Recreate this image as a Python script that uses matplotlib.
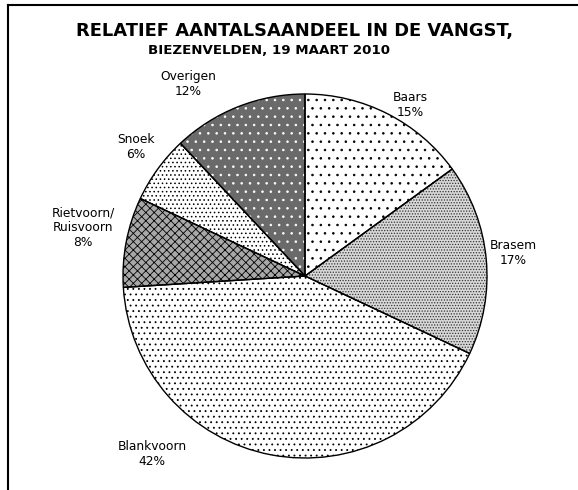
import matplotlib
matplotlib.use("Agg")
import matplotlib.pyplot as plt
from matplotlib.lines import Line2D

# Data
soorten = ["Baars", "Brasem", "Blankvoorn", "Rietvoorn/\nRuisvoorn", "Snoek", "Overigen"]
aandeel = [15, 17, 42, 8, 6, 12]

# Styling per slice
hatches = ["..", "......", "...", "xxxx", "....", ".."]
facecolors = ["white", "#d8d8d8", "white", "#a8a8a8", "white", "#6a6a6a"]
hatchcolors = ["black", "#333333", "black", "black", "black", "white"]
# label centres, in units of the pie radius
label_pos = [(0.58, 0.94), (1.143, 0.126), (-0.84, -0.978),
             (-1.22, 0.264), (-0.929, 0.709), (-0.643, 1.055)]

plt.rcParams["font.family"] = "DejaVu Sans"
plt.rcParams["hatch.linewidth"] = 0.6

fig = plt.figure(figsize=(5.78, 4.90), dpi=100)
ax = fig.add_axes([0, 0, 1, 1])

# pie centre at pixel (305, 276), radius 182 px
px = 182.0

# filled slices with patterns
wedges, _ = ax.pie(aandeel, startangle=90, counterclock=False, radius=1.0,
                   wedgeprops=dict(linewidth=0), normalize=True)
for w, h, fc, hc in zip(wedges, hatches, facecolors, hatchcolors):
    w.set_facecolor(fc)
    w.set_edgecolor(hc)
    w.set_hatch(h)
    w.set_linewidth(0)

# black outlines on top
ax.pie(aandeel, startangle=90, counterclock=False, radius=1.0,
       wedgeprops=dict(facecolor="none", edgecolor="black", linewidth=1.0))
ax.set_xlim(-305 / px, (578 - 305) / px)
ax.set_ylim(-(490 - 276) / px, 276 / px)
ax.set_aspect("auto")
ax.axis("off")

for naam, pct, (lx, ly) in zip(soorten, aandeel, label_pos):
    ax.text(lx, ly, "%s\n%d%%" % (naam, pct), ha="center", va="center",
            fontsize=8.8, linespacing=1.2)

fig.text(295 / 578, 1 - 31 / 490, "RELATIEF AANTALSAANDEEL IN DE VANGST,",
         ha="center", va="center", fontsize=12.9, fontweight="bold")
fig.text(269 / 578, 1 - 50 / 490, "BIEZENVELDEN, 19 MAART 2010",
         ha="center", va="center", fontsize=9.6, fontweight="bold")

# frame (only top and left edge visible)
fig.add_artist(Line2D([8 / 578, 8 / 578], [0, 1 - 5 / 490], color="black",
                      linewidth=1.5, transform=fig.transFigure))
fig.add_artist(Line2D([8 / 578, 1], [1 - 5 / 490, 1 - 5 / 490], color="black",
                      linewidth=1.5, transform=fig.transFigure))

fig.savefig("out.png", dpi=100)
